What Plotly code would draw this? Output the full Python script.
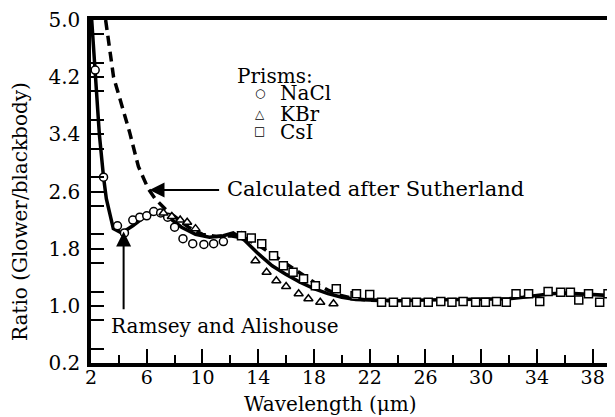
import plotly.graph_objects as go

# measured curve (Ramsey and Alishouse)
solid_x = [2.05, 2.3, 2.6, 2.9, 3.1, 3.6, 4.2, 5.0, 6.0, 6.8, 7.5, 8.5, 9.5, 10.5, 11.5, 12.2,
           13.0, 14.0, 15.0, 16.0, 17.0, 18.0, 19.0, 20.0, 21.0, 22.0, 24.0, 26.0, 28.0, 30.0,
           32.0, 33.0, 34.0, 35.0, 36.0, 37.0, 38.0, 39.6]
solid_y = [5.0, 4.2, 3.4, 2.8, 2.5, 2.08, 2.02, 2.12, 2.27, 2.31, 2.25, 2.1, 2.0, 1.96, 1.98, 2.02,
           1.92, 1.73, 1.56, 1.44, 1.33, 1.24, 1.17, 1.12, 1.09, 1.08, 1.07, 1.08, 1.09, 1.10,
           1.10, 1.12, 1.15, 1.17, 1.18, 1.17, 1.15, 1.14]

# calculated after Sutherland
calc_x = [3.05, 3.33, 3.62, 4.1, 4.77, 5.4, 6.1, 6.6, 7.0, 7.5, 8.0, 9.0, 10.0, 11.0, 12.0, 13.0,
          14.0, 15.0, 16.0, 17.0, 18.0, 19.0, 20.0, 21.0, 22.0, 24.0]
calc_y = [5.0, 4.6, 4.2, 3.88, 3.43, 2.95, 2.64, 2.5, 2.42, 2.32, 2.25, 2.1, 2.0, 1.97, 1.98, 1.95,
          1.85, 1.72, 1.58, 1.45, 1.33, 1.22, 1.14, 1.10, 1.08, 1.07]

nacl_x = [2.3, 2.9, 3.9, 4.4, 5.0, 5.5, 6.0, 6.5, 7.0, 7.5, 8.0, 8.6, 9.3, 10.1, 10.8, 11.5]
nacl_y = [4.3, 2.8, 2.12, 2.02, 2.2, 2.24, 2.26, 2.32, 2.3, 2.24, 2.1, 1.94, 1.87, 1.86, 1.87, 1.9]

kbr_x = [7.2, 7.8, 8.4, 8.9, 9.5, 12.8, 13.8, 14.6, 15.3, 16.0, 16.9, 17.6, 18.45, 19.4]
kbr_y = [2.3, 2.25, 2.2, 2.17, 2.08, 1.98, 1.63, 1.47, 1.35, 1.27, 1.17, 1.1, 1.05, 1.03]

csi_x = [12.8, 13.5, 14.25, 15.1, 15.8, 16.5, 17.25, 18.1, 19.6, 20.95, 21.05, 22.0, 22.85, 23.7,
         24.6, 25.35, 26.2, 27.1, 27.9, 28.7, 29.6, 30.3, 31.1, 31.8, 32.5, 33.4, 34.2, 34.8,
         35.7, 36.4, 37.0, 37.7, 38.5, 39.1]
csi_y = [1.98, 1.95, 1.87, 1.70, 1.56, 1.47, 1.38, 1.28, 1.24, 1.14, 1.17, 1.16, 1.05, 1.05,
         1.05, 1.05, 1.05, 1.06, 1.05, 1.06, 1.05, 1.05, 1.06, 1.05, 1.17, 1.17, 1.06, 1.2,
         1.19, 1.19, 1.08, 1.17, 1.05, 1.17]

FONT = "DejaVu Serif"
INK = "black"

fig = go.Figure()
fig.add_trace(go.Scatter(x=solid_x, y=solid_y, mode="lines",
                         line=dict(color=INK, width=3.5)))
fig.add_trace(go.Scatter(x=calc_x, y=calc_y, mode="lines",
                         line=dict(color=INK, width=3.5, dash="10px,6px")))
for xs, ys, sym in [(nacl_x, nacl_y, "circle"), (kbr_x, kbr_y, "triangle-up"),
                    (csi_x, csi_y, "square")]:
    fig.add_trace(go.Scatter(x=xs, y=ys, mode="markers",
                             marker=dict(symbol=sym, size=8, color="white",
                                         line=dict(color=INK, width=1.5))))

txt = dict(family=FONT, size=20, color=INK)
# legend built from annotations (rows are tightly stacked, so boxes are kept short)
fig.add_annotation(x=12.4, y=4.23, text="Prisms:", showarrow=False, xanchor="left", font=txt,
                   height=17, borderpad=0)
for yy, sym, name in [(3.98, "○", "NaCl"), (3.69, "△", "KBr"), (3.44, "□", "CsI")]:
    fig.add_annotation(x=14.1, y=yy, text=sym, showarrow=False, borderpad=0,
                       font=dict(family="DejaVu Sans", size=12, color=INK))
    fig.add_annotation(x=15.5, y=yy, text=name, showarrow=False, xanchor="left", font=txt,
                       height=17, borderpad=0)

fig.add_annotation(x=6.2, y=2.62, ax=11.3, ay=2.62, axref="x", ayref="y", text="",
                   showarrow=True, arrowhead=2, arrowsize=1.5, arrowwidth=2, arrowcolor=INK)
fig.add_annotation(x=11.6, y=2.64, text="Calculated after Sutherland", showarrow=False,
                   xanchor="left", font=dict(family=FONT, size=21, color=INK))
fig.add_annotation(x=4.34, y=2.04, ax=4.34, ay=0.93, axref="x", ayref="y", text="",
                   showarrow=True, arrowhead=2, arrowsize=1.5, arrowwidth=2, arrowcolor=INK)
fig.add_annotation(x=3.3, y=0.72, text="Ramsey and Alishouse", showarrow=False,
                   xanchor="left", font=txt)

# axis titles, placed where the original has them
fig.add_annotation(x=0.458, y=0, xref="paper", yref="paper", yshift=-41, yanchor="middle",
                   text="Wavelength (μm)", showarrow=False,
                   font=dict(family=FONT, size=20, color=INK))
fig.add_annotation(x=0, y=0.44, xref="paper", yref="paper", xshift=-71, xanchor="center",
                   textangle=-90, text="Ratio (Glower/blackbody)", showarrow=False,
                   font=dict(family=FONT, size=20, color=INK))

fig.update_layout(
    width=607, height=409,
    paper_bgcolor="white", plot_bgcolor="white",
    margin=dict(l=83, r=0, t=12, b=54, autoexpand=False),
    showlegend=False,
    font=dict(family=FONT, size=19, color=INK),
    xaxis=dict(range=[2, 39.6], tickmode="linear", tick0=2, dtick=4, ticks="inside", ticklen=14,
               tickwidth=2, tickcolor=INK, showgrid=False, zeroline=False, showline=True,
               linewidth=3.5, linecolor=INK, mirror=True, automargin=False,
               ticklabelstandoff=-6, tickfont=dict(size=19),
               minor=dict(dtick=2, ticks="inside", ticklen=8, tickwidth=2, tickcolor=INK,
                          showgrid=False)),
    yaxis=dict(range=[0.2, 5.0], tickmode="linear", tick0=0.2, dtick=0.8, tickformat=".1f",
               ticks="inside", ticklen=13, tickwidth=2, tickcolor=INK, showgrid=False,
               zeroline=False, showline=True, linewidth=3.5, linecolor=INK,
               automargin=False, ticklabelstandoff=3, tickfont=dict(size=20),
               minor=dict(dtick=0.4, ticks="inside", ticklen=13, tickwidth=2, tickcolor=INK,
                          showgrid=False)),
)

fig.write_html("out.html")
